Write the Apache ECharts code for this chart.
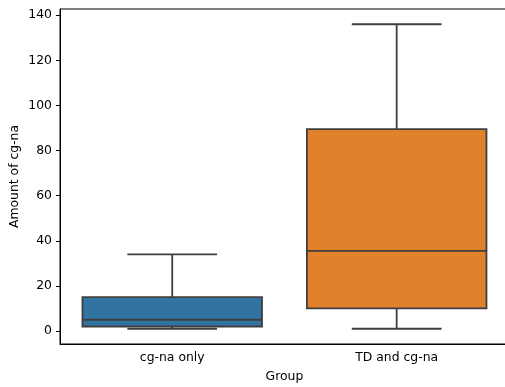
<!DOCTYPE html>
<html>
<head>
<meta charset="utf-8">
<style>html,body{margin:0;padding:0;background:#fff;overflow:hidden;}#chart{width:505px;height:387px;}</style>
<script src="https://cdn.jsdelivr.net/npm/echarts@6/dist/echarts.min.js"></script>
</head>
<body>
<div id="chart"></div>
<script>
const categories = ['cg-na only', 'TD and cg-na'];
// [lower whisker, Q1, median, Q3, upper whisker]
const cgnaOnly = [1, 2, 5, 15, 34];
const tdAndCgna = [1, 10, 35.5, 89.5, 136];
const boxColors = ['#3274a1', '#e1812c'];
const yTicks = [0, 20, 40, 60, 80, 100, 120, 140];

const stats = [cgnaOnly, tdAndCgna];
const data = stats.map((s, i) => [i].concat(s));

const chart = echarts.init(document.getElementById('chart'));
const font = 'DejaVu Sans';
const fs = 12.4;
const lineColor = '#3f3f3f';
const lw = 1.8;

chart.setOption({
  animation: false,
  grid: { left: 60, top: 9, right: -3.9, bottom: 43, outerBoundsMode: 'none', containLabel: false, show: true, borderColor: '#000', borderWidth: 1, backgroundColor: 'transparent' },
  xAxis: {
    type: 'category',
    data: categories,
    name: 'Group',
    nameLocation: 'middle',
    nameGap: 27,
    nameMoveOverlap: false,
    nameTextStyle: { fontFamily: font, fontSize: fs, color: '#000' },
    axisLine: { onZero: false, lineStyle: { color: '#000', width: 1 } },
    axisTick: { alignWithLabel: true, length: 4, lineStyle: { color: '#000', width: 1 } },
    axisLabel: { fontFamily: font, fontSize: fs, color: '#000', margin: 8 },
    splitLine: { show: false }
  },
  yAxis: {
    type: 'value',
    min: -5.75,
    max: 142.75,
    name: 'Amount of cg-na',
    nameLocation: 'middle',
    nameGap: 39,
    nameMoveOverlap: false,
    nameTextStyle: { fontFamily: font, fontSize: fs, color: '#000' },
    axisLine: { show: true, lineStyle: { color: '#000', width: 1 } },
    axisTick: { show: true, length: 4, customValues: yTicks, lineStyle: { color: '#000', width: 1 } },
    axisLabel: { fontFamily: font, fontSize: fs, color: '#000', margin: 8, customValues: yTicks },
    splitLine: { show: false }
  },
  series: [{
    type: 'custom',
    data: data,
    encode: { x: 0, y: [1, 2, 3, 4, 5] },
    renderItem: function (params, api) {
      const i = api.value(0);
      const lo = api.coord([i, api.value(1)]);
      const q1 = api.coord([i, api.value(2)]);
      const med = api.coord([i, api.value(3)]);
      const q3 = api.coord([i, api.value(4)]);
      const hi = api.coord([i, api.value(5)]);
      const band = api.size([1, 0])[0];
      const bw = band * 0.8;
      const cx = lo[0];
      const ls = { stroke: lineColor, lineWidth: lw };
      return {
        type: 'group',
        children: [
          { type: 'line', shape: { x1: cx, y1: q3[1], x2: cx, y2: hi[1] }, style: ls },
          { type: 'line', shape: { x1: cx, y1: q1[1], x2: cx, y2: lo[1] }, style: ls },
          { type: 'line', shape: { x1: cx - bw / 4, y1: hi[1], x2: cx + bw / 4, y2: hi[1] }, style: ls },
          { type: 'line', shape: { x1: cx - bw / 4, y1: lo[1], x2: cx + bw / 4, y2: lo[1] }, style: ls },
          { type: 'rect', shape: { x: cx - bw / 2, y: q3[1], width: bw, height: q1[1] - q3[1] }, style: { fill: boxColors[i], stroke: lineColor, lineWidth: lw } },
          { type: 'line', shape: { x1: cx - bw / 2, y1: med[1], x2: cx + bw / 2, y2: med[1] }, style: ls }
        ]
      };
    }
  }]
});
</script>
</body>
</html>
